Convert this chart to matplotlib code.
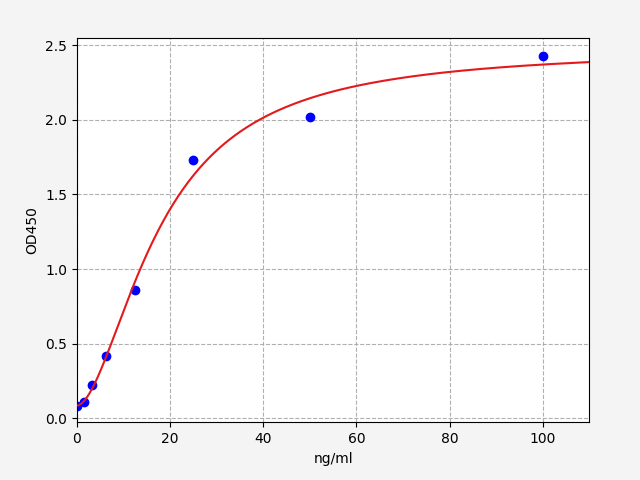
import numpy as np
import matplotlib
matplotlib.use("Agg")
import matplotlib.pyplot as plt

# Standard points
conc = [0, 1.5625, 3.125, 6.25, 12.5, 25, 50, 100]
od450 = [0.085, 0.11, 0.22, 0.42, 0.86, 1.73, 2.02, 2.43]

# 4PL fitted curve parameters (A: bottom, B: slope, C: EC50, D: top)
fit_A = 0.085
fit_B = 1.76
fit_C = 17.85
fit_D = 2.48

xlabel = "ng/ml"
ylabel = "OD450"

fig = plt.figure(figsize=(6.4, 4.8), dpi=100, facecolor="#f4f4f4")
ax = fig.add_axes([0.1203, 0.1202, 0.8005, 0.7998])
ax.set_facecolor("white")

xs = np.linspace(0, 110, 400)
ys = fit_D + (fit_A - fit_D) / (1 + (xs / fit_C) ** fit_B)

ax.plot(conc, od450, "o", color="blue", markersize=6, zorder=2)
ax.plot(xs, ys, color="#e31a1c", linewidth=1.5, zorder=3)

ax.set_xlim(0, 110)
ax.set_ylim(-0.027, 2.545)
ax.set_xticks([0, 20, 40, 60, 80, 100])
ax.set_yticks([0.0, 0.5, 1.0, 1.5, 2.0, 2.5])
ax.grid(True, linestyle="--", color="#b0b0b0", linewidth=0.8)
ax.set_axisbelow(True)
ax.set_xlabel(xlabel)
ax.set_ylabel(ylabel)

fig.savefig("out.png", dpi=100, facecolor=fig.get_facecolor())
